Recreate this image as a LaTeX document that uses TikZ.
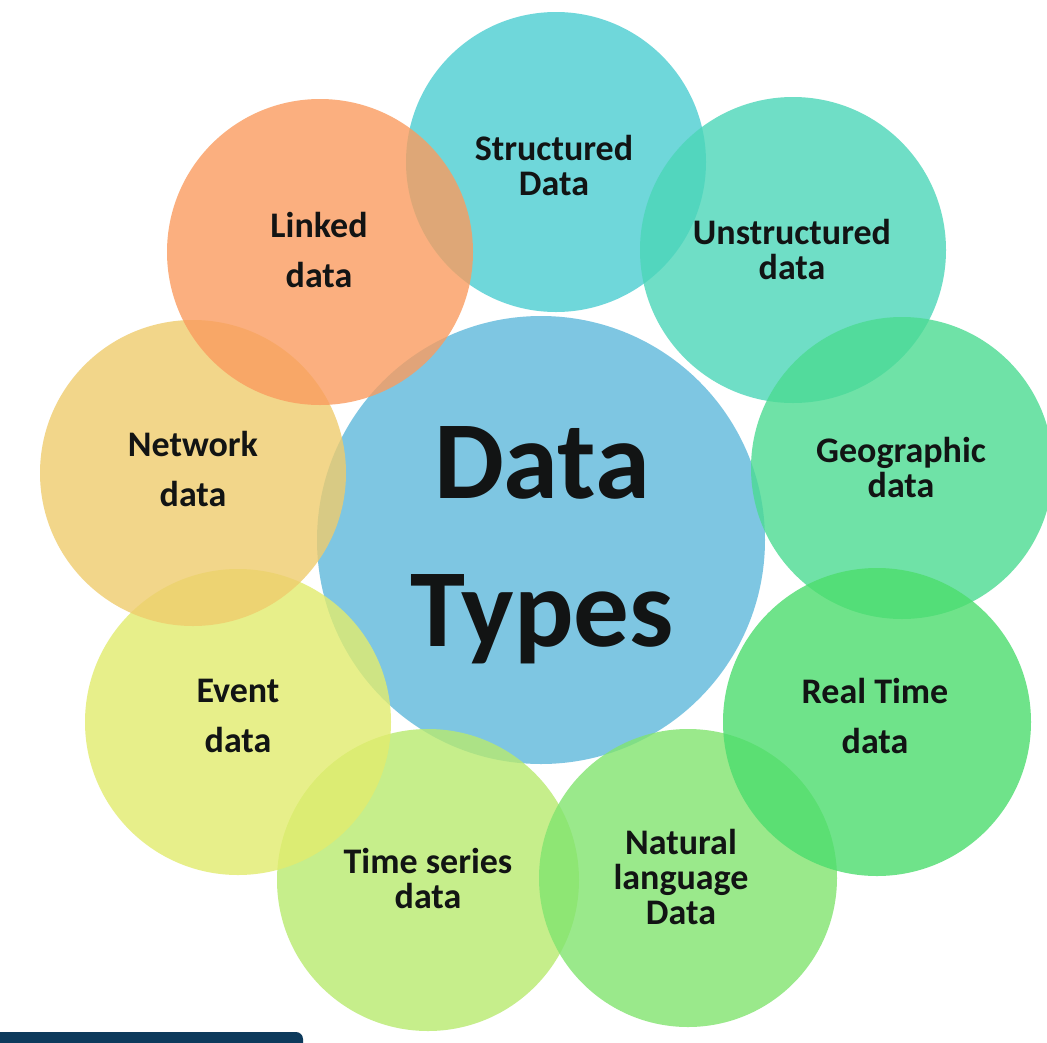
\documentclass[tikz,border=0pt]{standalone}
\usepackage{fontspec}
\setmainfont{Carlito}
\definecolor{ctrblue}{HTML}{7EC6E2}
\definecolor{cstruct}{HTML}{4CCED1}
\definecolor{cunstr}{HTML}{4BD6B8}
\definecolor{cgeo}{HTML}{4BDB92}
\definecolor{creal}{HTML}{4CDD6D}
\definecolor{cnat}{HTML}{81E46F}
\definecolor{ctime}{HTML}{B8EA6F}
\definecolor{cevent}{HTML}{E2EC6D}
\definecolor{cnet}{HTML}{EFCC6D}
\definecolor{clinked}{HTML}{FA9C5F}
\definecolor{ink}{HTML}{121414}
\definecolor{navybar}{HTML}{0D3A5C}
\begin{document}
\begin{tikzpicture}[x=1pt,y=-1pt,
  bubble/.style={circle, inner sep=0pt, minimum size=#1, fill opacity=0.8},
  hub/.style={circle, inner sep=0pt, minimum size=448pt, fill=ctrblue},
  lab/.style={font=\bfseries\fontsize{36}{35}\selectfont, align=center, text=ink, inner sep=0pt},
  labwide/.style={font=\bfseries\fontsize{36}{50}\selectfont, align=center, text=ink, inner sep=0pt},
  hublab/.style={font=\bfseries\fontsize{111}{148}\selectfont, align=center, text=ink, inner sep=0pt}]
\useasboundingbox (0,0) rectangle (1047,1042);
\fill[white] (0,0) rectangle (1047,1042);

% central circle
\node[hub] (hub) at (541,540) {};

% outer circles
\node[bubble=300pt, fill=cstruct] (cs) at (556,162) {};
\node[bubble=306pt, fill=cunstr] (cu) at (793,250) {};
\node[bubble=302pt, fill=cgeo] (cg) at (902,468) {};
\node[bubble=302pt, fill=ctime] (ct) at (428,880) {};
\node[bubble=298pt, fill=cnat] (cn) at (688,878) {};
\node[bubble=308pt, fill=creal] (cr) at (877,722) {};
\node[bubble=306pt, fill=cevent] (ce) at (238,722) {};
\node[bubble=306pt, fill=cnet] (cw) at (193,473) {};
\node[bubble=306pt, fill=clinked] (cl) at (320,252) {};

% labels
\node[hublab] (thub) at (542,545) {Data\\Types};
\node[lab] (ts) at (554,165) {Structured\\Data};
\node[lab] (tu) at (792,249) {Unstructured\\data};
\node[lab] (tg) at (901,467) {Geographic\\data};
\node[labwide] (tr) at (875,716) {Real Time\\data};
\node[lab] (tn) at (681,877) {Natural\\language\\Data};
\node[lab] (tt) at (428,878) {Time series\\data};
\node[labwide] (te) at (238,716) {Event\\data};
\node[labwide] (tw) at (193,469) {Network\\data};
\node[labwide] (tl) at (319,250) {Linked\\data};

% bottom bar
\fill[navybar, rounded corners=7pt] (-12,1032) rectangle (303,1060);
\end{tikzpicture}
\end{document}
